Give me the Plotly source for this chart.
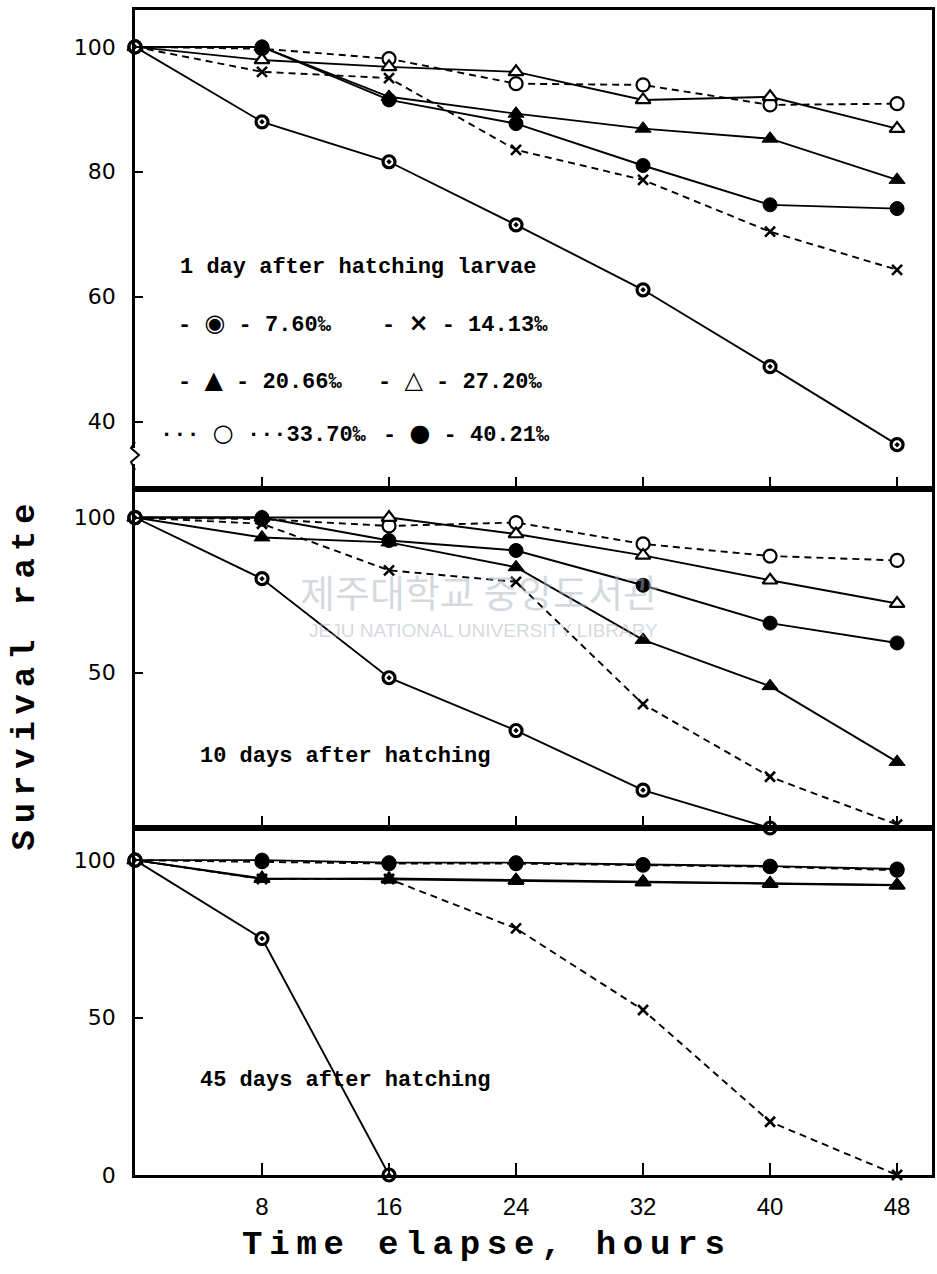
import plotly.graph_objects as go

# ---------------- data ----------------
hours = [0, 8, 16, 24, 32, 40, 48]
salinity_names = ["7.60‰", "14.13‰", "20.66‰", "27.20‰", "33.70‰", "40.21‰"]

# 1 day after hatching larvae
day1_s760 = [100, 88.0, 81.6, 71.5, 61.1, 48.8, 36.3]
day1_s1413 = [100, 96.0, 95.0, 83.5, 78.7, 70.4, 64.3]
day1_s2066 = [100, 100, 92.0, 89.3, 86.9, 85.3, 78.7]
day1_s2720 = [100, 97.9, 96.8, 96.0, 91.5, 92.0, 86.9]
day1_s3370 = [100, 99.7, 98.1, 94.1, 93.9, 90.7, 90.9]
day1_s4021 = [100, 100, 91.5, 87.7, 81.0, 74.7, 74.1]

# 10 days after hatching
day10_s760 = [100, 80.3, 48.4, 31.4, 12.2, 0, None]
day10_s1413 = [100, 98.0, 83.0, 79.3, 39.9, 16.5, 1.1]
day10_s2066 = [100, 93.6, 92.0, 84.0, 60.6, 45.7, 21.3]
day10_s2720 = [100, 100, 100, 94.7, 87.8, 79.8, 72.3]
day10_s3370 = [100, 99.5, 97.3, 98.4, 91.5, 87.6, 86.2]
day10_s4021 = [100, 100, 92.6, 89.4, 78.2, 66.0, 59.6]

# 45 days after hatching
day45_s760 = [100, 75.1, 0, None, None, None, None]
day45_s1413 = [100, 94.0, 94.0, 78.3, 52.4, 16.9, 0]
day45_s2066 = [100, 94.0, 94.2, 93.7, 93.1, 92.6, 92.1]
day45_s2720 = [100, 94.2, 93.9, 93.5, 93.0, 92.5, 92.0]
day45_s3370 = [100, 99.5, 98.9, 98.9, 98.4, 97.9, 96.8]
day45_s4021 = [100, 100, 99.2, 99.2, 98.6, 98.1, 97.2]

panel_titles = ["1 day after hatching larvae", "10 days after hatching", "45 days after hatching"]
x_tick_vals = [8, 16, 24, 32, 40, 48]
x_tick_text = ["8", "16", "24", "32", "40", "48"]
y1_ticks = [40, 60, 80, 100]
y2_ticks = [50, 100]
y3_ticks = [0, 50, 100]
legend_glyphs = ["◉", "×", "▲", "△", "○", "●"]

panels = [
    [day1_s760, day1_s1413, day1_s2066, day1_s2720, day1_s3370, day1_s4021],
    [day10_s760, day10_s1413, day10_s2066, day10_s2720, day10_s3370, day10_s4021],
    [day45_s760, day45_s1413, day45_s2066, day45_s2720, day45_s3370, day45_s4021],
]

# ---------------- styles ----------------
DASH = "7px,5px"
STYLE = [
    dict(symbol="circle-dot", size=12, color="white", lw=3.2, dash="solid"),
    dict(symbol="x-thin", size=10, color="black", lw=2.6, dash=DASH),
    dict(symbol="triangle-up", size=14, color="black", lw=1, dash="solid"),
    dict(symbol="triangle-up", size=13, color="white", lw=2.2, dash="solid"),
    dict(symbol="circle", size=13, color="white", lw=2.2, dash=DASH),
    dict(symbol="circle", size=14, color="black", lw=1, dash="solid"),
]
DRAW_ORDER = [1, 4, 3, 2, 5, 0]

fig = go.Figure()
axis_suffix = ["", "2", "3"]
for p, series in enumerate(panels):
    for i in DRAW_ORDER:
        st = STYLE[i]
        fig.add_trace(go.Scatter(
            x=hours, y=series[i], name=salinity_names[i],
            mode="lines+markers",
            xaxis="x" + axis_suffix[p], yaxis="y" + axis_suffix[p],
            line=dict(color="black", width=1.9, dash=st["dash"]),
            marker=dict(symbol=st["symbol"], size=st["size"], color=st["color"],
                        line=dict(color="black", width=st["lw"])),
            cliponaxis=False, showlegend=False, connectgaps=False,
        ))

# ---------------- layout ----------------
W_PX, H_PX = 800.0, 1165.0
L_PX, T_PX = 135.0, 10.0


def px(xp):
    return (xp - L_PX) / W_PX


def py(yp):
    return (T_PX + H_PX - yp) / H_PX


common = dict(showline=True, linecolor="black", linewidth=2.5, mirror=True,
              showgrid=False, zeroline=False, ticks="inside", tickcolor="black",
              tickwidth=2)
tick_font_y = dict(family="DejaVu Sans", size=22, color="black")
tick_font_x = dict(family="Liberation Sans", size=24, color="black")

xr = [0, 50.2]
d1 = [py(489), 1.0]
d2 = [py(828), py(489)]
d3 = [0.0, py(828)]

fig.update_layout(
    width=937, height=1274,
    margin=dict(l=135, r=2, t=10, b=99),
    paper_bgcolor="white", plot_bgcolor="white",
    showlegend=False,
    xaxis=dict(domain=[0, 1], anchor="y", range=xr, tickvals=x_tick_vals,
               showticklabels=False, ticklen=12, **common),
    xaxis2=dict(domain=[0, 1], anchor="y2", range=xr, tickvals=x_tick_vals,
                showticklabels=False, ticklen=12, **common),
    xaxis3=dict(domain=[0, 1], anchor="y3", range=xr, tickvals=x_tick_vals,
                ticktext=x_tick_text, tickfont=tick_font_x, ticklen=12,
                ticklabelstandoff=8, **common),
    yaxis=dict(domain=d1, anchor="x", range=[29.2, 105.9], tickvals=y1_ticks,
               tickfont=tick_font_y, ticklen=8, ticklabelstandoff=12, **common),
    yaxis2=dict(domain=d2, anchor="x2", range=[0, 109.2], tickvals=y2_ticks,
                tickfont=tick_font_y, ticklen=8, ticklabelstandoff=12, **common),
    yaxis3=dict(domain=d3, anchor="x3", range=[0, 110.2], tickvals=y3_ticks,
                tickfont=tick_font_y, ticklen=8, ticklabelstandoff=12, **common),
)

ann_font = dict(family="Liberation Mono", size=22, color="black", weight="bold")
title_font = dict(family="Liberation Mono", size=34, color="black", weight="bold")

annotations = [
    dict(text=panel_titles[0], x=px(178), y=py(268)),
    dict(text=panel_titles[1], x=px(198), y=py(757)),
    dict(text=panel_titles[2], x=px(198), y=py(1080)),
]


def glyph(g):
    return ('<span style="font-family:DejaVu Sans;font-size:24px">' + g + '</span>')


# legend rows (text legend as in the original figure)
legend_pos = [(176, 323), (381, 323), (176, 380), (377, 380), (158, 433), (382, 433)]
for i, (lx, ly) in enumerate(legend_pos):
    if i == 4:
        txt = "··· " + glyph(legend_glyphs[i]) + " ···" + salinity_names[i]
    else:
        txt = "- " + glyph(legend_glyphs[i]) + " - " + salinity_names[i]
    annotations.append(dict(text=txt, x=px(lx), y=py(ly)))

for a in annotations:
    a.update(xref="paper", yref="paper", xanchor="left", yanchor="middle",
             showarrow=False, font=ann_font)

annotations += [
    dict(text="Survival rate".replace("", "\u2009").strip("\u2009"),
         x=px(25), y=py(677), xref="paper", yref="paper",
         textangle=-90, showarrow=False, font=title_font,
         xanchor="center", yanchor="middle"),
    dict(text="Time elapse, hours".replace("", "\u2009").strip("\u2009"),
         x=px(485), y=py(1245), xref="paper", yref="paper",
         showarrow=False, font=title_font, xanchor="center", yanchor="middle"),
    # faint library watermark
    dict(text="제주대학교 중앙도서관", x=px(480), y=py(590), xref="paper", yref="paper",
         showarrow=False, xanchor="center", yanchor="middle",
         font=dict(family="Noto Sans CJK KR", size=38, color="rgba(170,180,190,0.5)")),
    dict(text="JEJU NATIONAL UNIVERSITY LIBRARY", x=px(485), y=py(630),
         xref="paper", yref="paper", showarrow=False, xanchor="center",
         yanchor="middle",
         font=dict(family="Liberation Sans Narrow, Liberation Sans", size=19,
                   color="rgba(170,180,190,0.5)")),
]
fig.update_layout(annotations=annotations)

# axis break mark on the first panel
fig.add_shape(type="rect", xref="paper", yref="paper", x0=px(132), x1=px(138),
              y0=py(464), y1=py(448), fillcolor="white", line=dict(width=0))
fig.add_shape(type="path", xref="paper", yref="paper",
              path=f"M {px(135)},{py(470)} L {px(131)},{py(462)} L {px(139)},{py(455)} "
                   f"L {px(131)},{py(448)} L {px(135)},{py(442)}",
              line=dict(color="black", width=2))

fig.write_html("out.html")
